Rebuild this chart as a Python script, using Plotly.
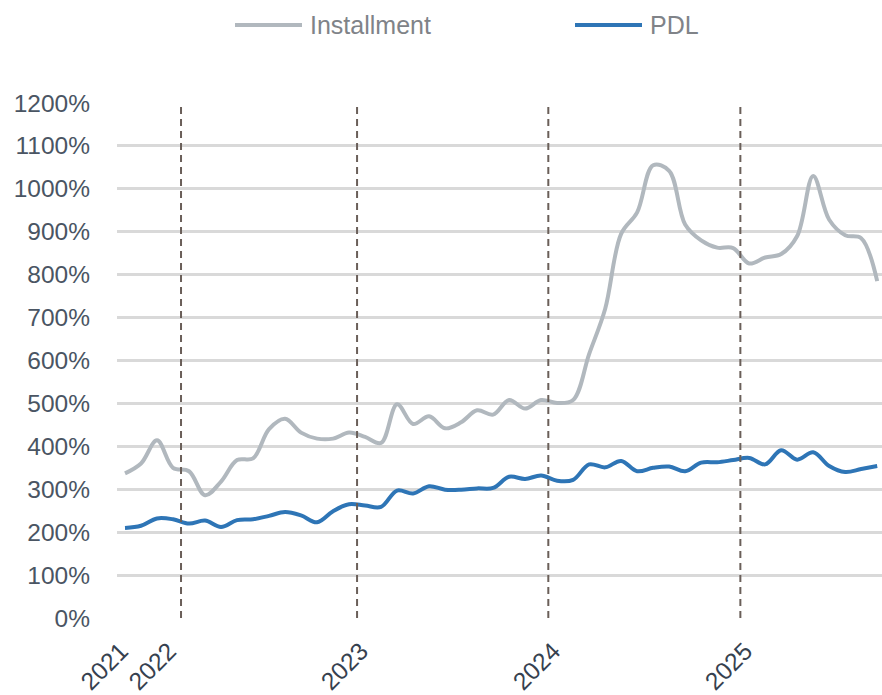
import plotly.graph_objects as go

# Monthly observations, Oct 2021 .. Sep 2025
months = [
    "2021-10", "2021-11", "2021-12",
    "2022-01", "2022-02", "2022-03", "2022-04", "2022-05", "2022-06",
    "2022-07", "2022-08", "2022-09", "2022-10", "2022-11", "2022-12",
    "2023-01", "2023-02", "2023-03", "2023-04", "2023-05", "2023-06",
    "2023-07", "2023-08", "2023-09", "2023-10", "2023-11", "2023-12",
    "2024-01", "2024-02", "2024-03", "2024-04", "2024-05", "2024-06",
    "2024-07", "2024-08", "2024-09", "2024-10", "2024-11", "2024-12",
    "2025-01", "2025-02", "2025-03", "2025-04", "2025-05", "2025-06",
    "2025-07", "2025-08", "2025-09",
]

installment = [
    337, 360, 414,
    350, 342, 286, 318, 368, 372, 440, 464, 432, 418, 418, 432,
    422, 408, 498, 452, 470, 442, 456, 484, 474, 508, 488, 508,
    501, 508, 615, 720, 895, 945, 1055, 1042, 917, 880, 863, 862,
    826, 840, 848, 890, 1030, 928, 892, 885, 785,
]

pdl = [
    210, 215, 232,
    230, 220, 227, 212, 228, 230, 238, 247, 239, 223, 249, 265,
    262, 259, 297, 290, 307, 299, 299, 302, 303, 329, 324, 332,
    320, 322, 358, 351, 366, 342, 350, 353, 342, 362, 363, 368,
    373, 358, 391, 369, 386, 354, 340, 347, 354,
]

series_names = ["Installment", "PDL"]
y_ticks = list(range(0, 1201, 100))
y_tick_labels = [f"{v}%" for v in y_ticks]

# year labels: first observation and each January
x_idx = list(range(len(months)))
x_tick_vals = [i for i, m in enumerate(months) if i == 0 or m.endswith("-01")]
x_tick_text = [months[i][:4] for i in x_tick_vals]

# year separators (dashed), in month-index units
separators = [3.5, 14.5, 26.45, 38.45]

GRAY = "#b1b8be"
BLUE = "#2e75b6"
FONT = "Liberation Sans"

W, H = 882, 695
ML, MR, MT, MB = 117, 0, 103, 77
PW, PH = W - ML - MR, H - MT - MB

fig = go.Figure()
fig.add_trace(go.Scatter(
    x=x_idx, y=installment, name=series_names[0], mode="lines",
    line=dict(color=GRAY, width=4, shape="spline", smoothing=1.0),
    showlegend=False,
))
fig.add_trace(go.Scatter(
    x=x_idx, y=pdl, name=series_names[1], mode="lines",
    line=dict(color=BLUE, width=4, shape="spline", smoothing=1.0),
    showlegend=False,
))

shapes = []
for s in separators:
    shapes.append(dict(
        type="line", xref="x", yref="y", x0=s, x1=s, y0=0, y1=1192,
        line=dict(color="#6a5f59", width=2, dash="7px,5px"), layer="above",
    ))

# custom legend (long line samples like the original); pixel positions in figure coords
legend_items = [(series_names[0], GRAY, 235, 302), (series_names[1], BLUE, 575, 642)]
legend_y = 25
annotations = []
for name, col, lx0, lx1 in legend_items:
    py = (H - legend_y - MB) / PH
    shapes.append(dict(
        type="line", xref="paper", yref="paper",
        x0=(lx0 - ML) / PW, x1=(lx1 - ML) / PW, y0=py, y1=py,
        line=dict(color=col, width=4),
    ))
    annotations.append(dict(
        xref="paper", yref="paper",
        x=(lx1 + 6 - ML) / PW, y=py,
        xanchor="left", yanchor="middle", showarrow=False,
        text=name, font=dict(family=FONT, size=25, color="#808388"),
    ))

fig.update_layout(
    width=W, height=H,
    margin=dict(l=ML, r=MR, t=MT, b=MB, autoexpand=False),
    paper_bgcolor="white", plot_bgcolor="white",
    font=dict(family=FONT, size=24, color="#4a5563"),
    shapes=shapes, annotations=annotations,
    showlegend=False,
)
fig.update_xaxes(
    range=[-0.5, 47.3], tickmode="array", tickvals=x_tick_vals, ticktext=x_tick_text,
    tickangle=-45, showgrid=False, zeroline=False, showline=False,
    ticks="", ticklabelstandoff=13, ticklabelshift=-4, automargin=False,
    tickfont=dict(family=FONT, size=24.5, color="#36414f"),
)
fig.update_yaxes(
    range=[0, 1200], tickmode="array", tickvals=y_ticks, ticktext=y_tick_labels,
    showgrid=True, gridcolor="#d9d9d9", gridwidth=2.5,
    zeroline=False, showline=False, ticks="", ticklabelstandoff=26, automargin=False,
    tickfont=dict(family=FONT, size=24.5, color="#4a5563"),
)

# remove the default 8px page margin so the 882x695 figure fills the window exactly
fig.write_html(
    "out.html",
    config={"displayModeBar": False},
    post_script="document.body.style.margin='0';document.body.style.overflow='hidden';",
)
